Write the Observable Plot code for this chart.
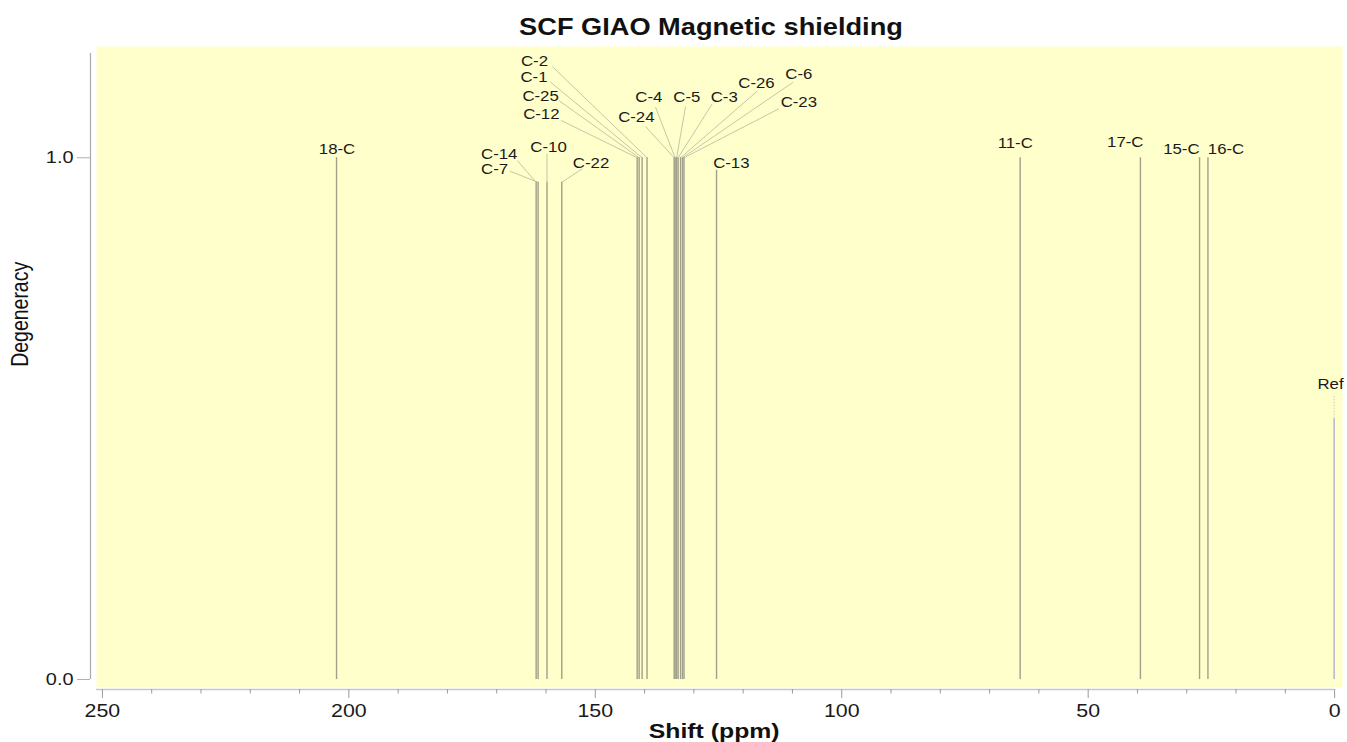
<!DOCTYPE html>
<html>
<head>
<meta charset="utf-8">
<script src="https://cdn.jsdelivr.net/npm/d3@7"></script>
<script src="https://cdn.jsdelivr.net/npm/@observablehq/plot@0.6"></script>
<style>
  html, body { margin: 0; padding: 0; background: #fff; }
  #title { position: relative; width: 1347px; height: 40px; }
  #title span { position: absolute; left: 711px; top: 3px; white-space: nowrap;
    font: bold 24.5px "Liberation Sans", Arial, sans-serif; line-height: 48px; color: #111;
    transform: translateX(-50%) scaleX(1.11); }
  svg { display: block; }
</style>
</head>
<body>
<div id="title"><span>SCF GIAO Magnetic shielding</span></div>
<div id="chart"></div>
<script>
// ---- data ----
const peakLabels = ["18-C","C-7","C-14","C-10","C-22","C-12","C-25","C-1","C-2",
  "C-24","C-4","C-5","C-3","C-26","C-6","C-23","C-13","11-C","17-C","15-C","16-C","Ref"];
const peakShifts = [202.5,161.6,162.0,159.8,156.8,141.5,141.1,140.5,139.5,
  134.0,133.8,133.5,133.2,132.7,132.3,132.0,125.4,63.8,39.4,27.4,25.7,0.1];
const peakDegeneracy = [1,1,1,1,1,1,1,1,1,1,1,1,1,1,1,1,1,1,1,1,1,0.5];
const xTickValues = [250,200,150,100,50,0];
const xTickLabels = ["250","200","150","100","50","0"];
const yTickValues = [0,1];
const yTickLabels = ["0.0","1.0"];

// ---- label placement (annotation layout, in data units) ----
const labelLayout = {
  "18-C": {tx:202.4, ty:1.016},
  "C-7":  {tx:170.44, ty:0.9776, lx:167.33, ly:0.9743, stem:0.953},
  "C-14": {tx:169.49, ty:1.0063, lx:165.84, ly:0.9948, stem:0.953},
  "C-10": {tx:159.48, ty:1.0192, lx:159.8, ly:1.0077, stem:0.953},
  "C-22": {tx:150.86, ty:0.9897, lx:152.65, ly:0.9789, stem:0.953},
  "C-12": {tx:160.95, ty:1.083, lx:156.91, ly:1.0715},
  "C-25": {tx:161.1, ty:1.118, lx:157.39, ly:1.1098},
  "C-1":  {tx:162.43, ty:1.1545, lx:159.08, ly:1.1449},
  "C-2":  {tx:162.33, ty:1.1852, lx:158.73, ly:1.175},
  "C-24": {tx:141.67, ty:1.0778, lx:139.8, ly:1.06},
  "C-4":  {tx:139.13, ty:1.115, lx:137.78, ly:1.097},
  "C-5":  {tx:131.43, ty:1.115, lx:131.69, ly:1.0983},
  "C-3":  {tx:123.84, ty:1.115, lx:126.27, ly:1.1035},
  "C-26": {tx:117.29, ty:1.1419, lx:117.14, ly:1.1277},
  "C-6":  {tx:108.7, ty:1.1591, lx:109.84, ly:1.1449},
  "C-23": {tx:108.7, ty:1.1054, lx:112.76, ly:1.0939},
  "C-13": {tx:122.4, ty:0.9885, stem:0.976},
  "11-C": {tx:64.8, ty:1.028},
  "17-C": {tx:42.48, ty:1.0293},
  "15-C": {tx:31.1, ty:1.0153},
  "16-C": {tx:22.03, ty:1.0153},
  "Ref":  {tx:0.83, ty:0.5649, dotTop:0.5444}
};

const xDomain = [251.2, -1.6];
const yDomain = [-0.0148, 1.2133];

const peaks = peakLabels.map((label, i) => {
  const L = labelLayout[label] || {};
  const deg = peakDegeneracy[i];
  return {label, shift: peakShifts[i], deg, top: L.stem != null ? Math.min(L.stem, deg) : deg, ...L};
});
const mainPeaks = peaks.filter(d => d.label !== "Ref");
const refPeaks = peaks.filter(d => d.label === "Ref");
const leaders = peaks.filter(d => d.lx != null);
const minorTicks = d3.range(0, 251, 10).filter(v => !xTickValues.includes(v));

const font = '"Liberation Sans", Arial, sans-serif';

const svg = Plot.plot({
  width: 1347,
  height: 702,
  marginLeft: 96,
  marginRight: 5,
  marginTop: 6,
  marginBottom: 55.3,
  style: {fontFamily: font, background: "white", overflow: "visible"},
  x: {domain: xDomain},
  y: {domain: yDomain},
  marks: [
    Plot.frame({fill: "#ffffcc", stroke: "none"}),
    // axes lines
    Plot.ruleY([yDomain[0]], {x1: xDomain[0], x2: 0, dy: 2.3, stroke: "#c8c8c8", strokeWidth: 1.5}),
    Plot.ruleX([xDomain[0]], {y1: 0, y2: 1.2, dx: -6, stroke: "#aaaaaa", strokeWidth: 1.2}),
    Plot.axisX(xTickValues, {anchor: "bottom", tickSize: 9, tickPadding: 6, dy: 2.3,
      tickFormat: v => xTickLabels[xTickValues.indexOf(v)], fontSize: 17.8,
      stroke: "#9a9a9a", fill: "#1a1a1a", label: null}),
    Plot.axisX(minorTicks, {anchor: "bottom", tickSize: 4.5, dy: 2.3, tickFormat: () => "",
      stroke: "#9a9a9a", label: null}),
    Plot.axisY(yTickValues, {anchor: "left", tickSize: 13, tickPadding: 4, dx: -6,
      tickFormat: v => yTickLabels[yTickValues.indexOf(v)], fontSize: 16.6,
      stroke: "#b0b0b0", fill: "#1a1a1a", label: null}),
    // leaders
    Plot.link(leaders, {x1: "lx", y1: "ly", x2: "shift", y2: "top", stroke: "#c6c6a8", strokeWidth: 1}),
    // peaks
    Plot.ruleX(mainPeaks, {x: "shift", y1: 0, y2: "top", stroke: "#a0a08a", strokeWidth: 1.4}),
    Plot.ruleX(refPeaks, {x: "shift", y1: 0, y2: "deg", stroke: "#b6b8d2", strokeWidth: 1.6}),
    Plot.ruleX(refPeaks, {x: "shift", y1: "deg", y2: "dotTop", stroke: "#cfcfc0", strokeWidth: 1.2, strokeDasharray: "1.5,1.5"}),
    // labels
    Plot.text(peaks, {x: "tx", y: "ty", text: "label", fontSize: 14, fill: "#1a1a1a"}),
    // axis titles
    Plot.text(["Shift (ppm)"], {frameAnchor: "bottom", lineAnchor: "middle", dy: 44.8, dx: -5.3,
      fontWeight: "bold", fontSize: 20, fill: "#111"}),
    Plot.text(["Degeneracy"], {frameAnchor: "left", lineAnchor: "middle", dx: -75.6, rotate: -90,
      fontSize: 19.5, fill: "#111"})
  ]
});

document.getElementById("chart").appendChild(svg);

// horizontal stretch of the text glyphs to match the reference's aspect
const SX = 1.2;
svg.querySelectorAll("text").forEach(t => {
  const tr = t.getAttribute("transform") || "";
  if (t.textContent === "Degeneracy") {
    t.setAttribute("transform", tr + ` scale(1,${SX})`);
  } else {
    const sx = t.textContent === "Shift (ppm)" ? 1.24 : SX;
    const ax = parseFloat(t.getAttribute("x")) || 0;
    t.setAttribute("transform", tr + ` translate(${ax},0) scale(${sx},1) translate(${-ax},0)`);
  }
});
</script>
</body>
</html>
